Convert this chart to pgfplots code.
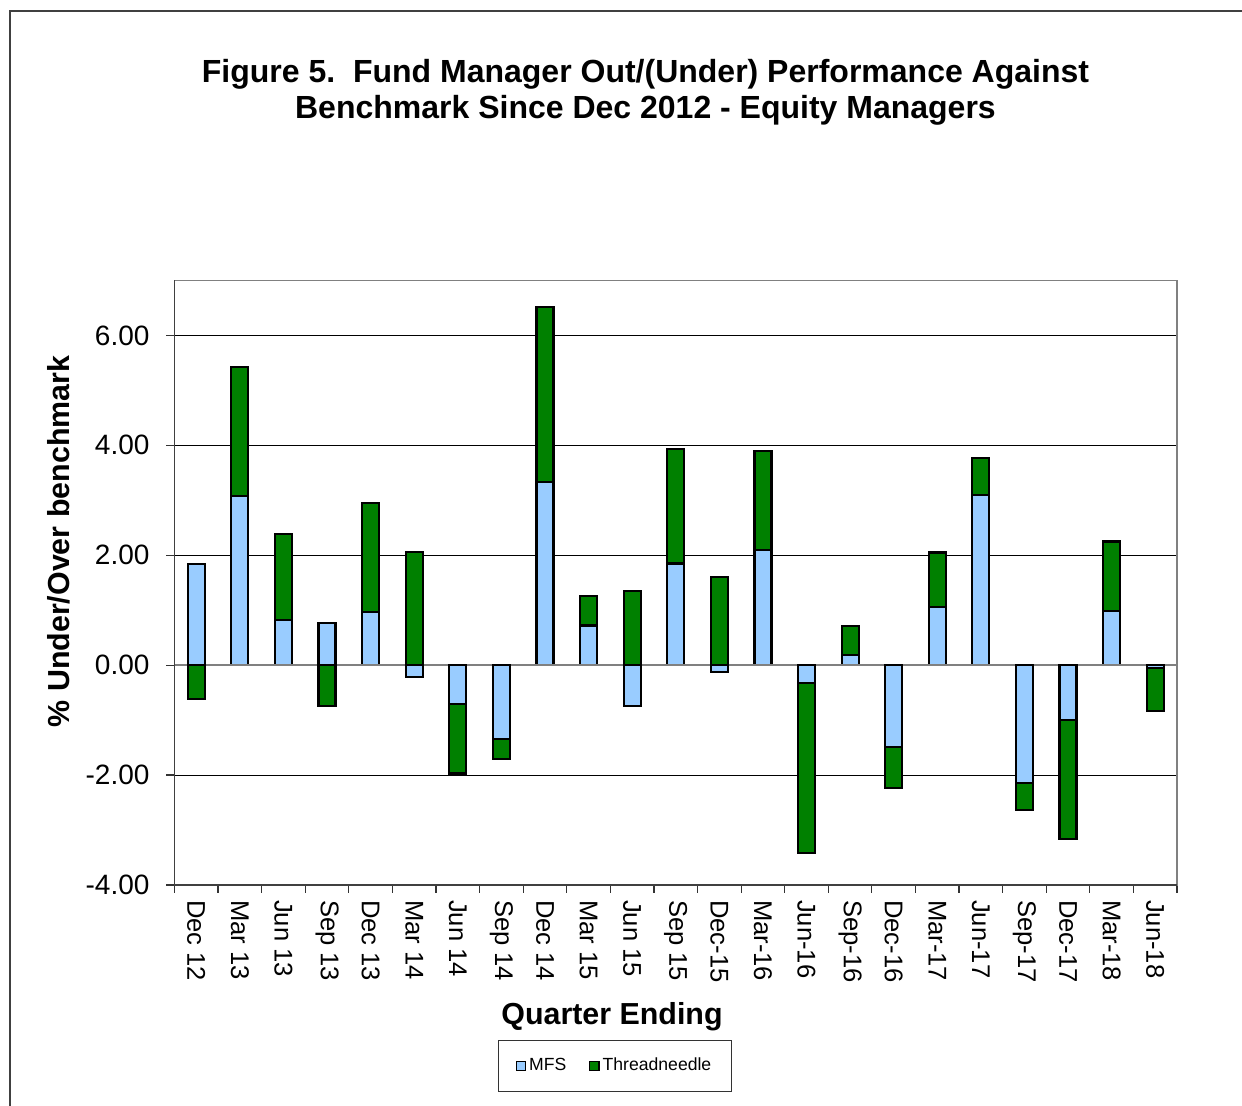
\documentclass[border=0pt]{standalone}
\usepackage{fontspec}
\setmainfont{Liberation Sans}
\usepackage{pgfplots}
\pgfplotsset{compat=1.18}
\usepackage{pgfplotstable}

\definecolor{mfs}{HTML}{99CCFF}
\definecolor{tn}{HTML}{008000}

% x  MFS(+)  Thread(+)  MFS(-)  Thread(-)
\pgfplotstableread{
x mfspos tnpos mfsneg tnneg
0  1.84 0    0     -0.62
1  3.08 2.35 0      0
2  0.82 1.56 0      0
3  0.77 0    0     -0.74
4  0.97 1.98 0      0
5  0    2.06 -0.21  0
6  0    0    -0.70 -1.27
7  0    0    -1.34 -0.37
8  3.34 3.17 0      0
9  0.72 0.54 0      0
10 0    1.35 -0.75  0
11 1.85 2.08 0      0
12 0    1.60 -0.13  0
13 2.10 1.80 0      0
14 0    0    -0.32 -3.10
15 0.18 0.53 0      0
16 0    0    -1.49 -0.75
17 1.06 0.99 0      0
18 3.09 0.68 0      0
19 0    0    -2.14 -0.49
20 0    0    -1.00 -2.17
21 0.99 1.26 0      0
22 0    0    -0.05 -0.79
}\data

\begin{document}
\begin{tikzpicture}
\useasboundingbox (0pt,0pt) rectangle (621pt,553pt);
\draw[line width=0.6pt, black!75] (622pt,547.5pt) -- (5pt,547.5pt) -- (5pt,-1pt);
\node[anchor=base, font=\fontsize{16}{18}\selectfont\bfseries] at (322.75pt,511.5pt) {Figure 5.\ \ Fund Manager Out/(Under) Performance Against};
\node[anchor=base, font=\fontsize{16}{18}\selectfont\bfseries] at (322.75pt,493.5pt) {Benchmark Since Dec 2012 - Equity Managers};
\node[rotate=90, font=\fontsize{15.2}{16}\selectfont\bfseries] at (29.5pt,282.25pt) {\% Under/Over benchmark};
\node[anchor=base, font=\fontsize{15.2}{16}\selectfont\bfseries] at (306pt,40.5pt) {Quarter Ending};

\begin{axis}[
  at={(87.25pt,110.5pt)}, anchor=south west,
  scale only axis, width=501.25pt, height=302.25pt,
  xmin=-0.5, xmax=22.5, ymin=-4, ymax=7,
  ybar stacked, bar width=8.5pt,
  xtick={0,...,22},
  xticklabels={Dec 12, Mar 13, Jun 13, Sep 13, Dec 13, Mar 14, Jun 14, Sep 14, Dec 14, Mar 15, Jun 15, Sep 15, Dec-15, Mar-16, Jun-16, Sep-16, Dec-16, Mar-17, Jun-17, Sep-17, Dec-17, Mar-18, Jun-18},
  major x tick style={draw=none},
  minor xtick={-0.5,0.5,...,22.5},
  x tick label style={rotate=-90, anchor=west, font=\fontsize{12.8}{13}\selectfont},
  ytick={-4,-2,0,2,4,6},
  yticklabels={-4.00,-2.00,0.00,2.00,4.00,6.00},
  y tick label style={font=\fontsize{14}{15}\selectfont, xshift=-5pt},
  tick align=outside, major tick length=4pt, minor tick length=4pt,
  tick pos=left,
  ymajorgrids, grid style={black, line width=0.5pt},
  axis line style={black!50, line width=0.8pt},
  tick style={black!80, line width=0.6pt},
  legend style={at={(0.4394,-0.2994)}, anchor=center, legend columns=2,
    draw=black!80, line width=0.6pt, font=\fontsize{8.8}{9}\selectfont,
    inner xsep=8.5pt, inner ysep=7pt,
    nodes={inner xsep=1.5pt},
    /tikz/every even column/.append style={column sep=10pt}},
  legend image code/.code={\draw[#1, line width=0.6pt] (0pt,-2.3pt) rectangle (4.6pt,2.3pt);},
]
\draw[black!50, line width=0.8pt] (axis cs:-0.5,0) -- (axis cs:22.5,0);
\addplot[fill=mfs, draw=black, line width=1.1pt] table[x=x,y=mfspos]{\data};
\addplot[fill=tn, draw=black, line width=1.1pt] table[x=x,y=tnpos]{\data};
\legend{MFS,Threadneedle}
\end{axis}

\begin{axis}[
  at={(87.25pt,110.5pt)}, anchor=south west,
  scale only axis, width=501.25pt, height=302.25pt,
  xmin=-0.5, xmax=22.5, ymin=-4, ymax=7,
  ybar stacked, bar width=8.5pt,
  hide axis, clip=false,
]
\addplot[fill=mfs, draw=black, line width=1.1pt] table[x=x,y=mfsneg]{\data};
\addplot[fill=tn, draw=black, line width=1.1pt] table[x=x,y=tnneg]{\data};
\draw[black!75, line width=0.8pt] (rel axis cs:0,1) -- (rel axis cs:0,0) -- (rel axis cs:1,0);
\end{axis}
\end{tikzpicture}
\end{document}
